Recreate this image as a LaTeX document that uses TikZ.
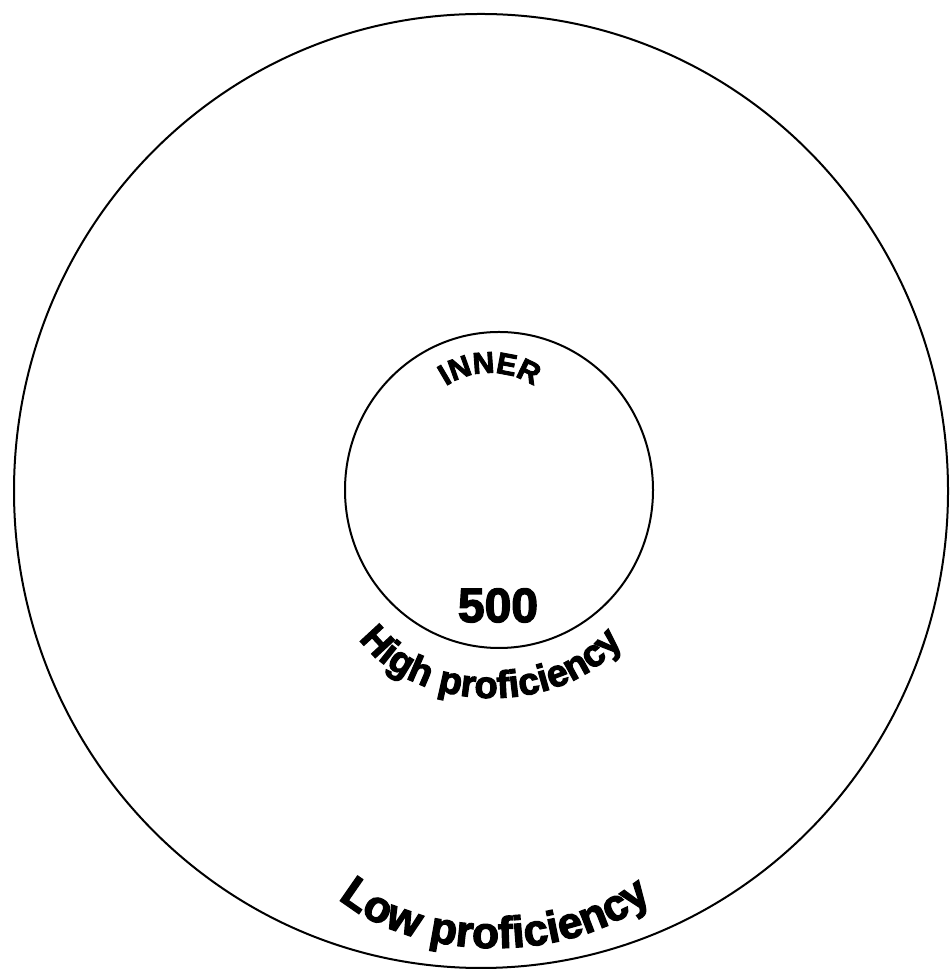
\documentclass[tikz,border=0pt]{standalone}
\usepackage{fontspec}
\setmainfont{Liberation Sans}
\newfontfamily\lbl{Liberation Sans Bold}[FakeBold=3]
\usetikzlibrary{decorations.text}
\begin{document}
\begin{tikzpicture}[x=1pt,y=1pt]
\tikzset{
  ring/.style={draw=black,line width=2pt},
  curved/.style={decorate,decoration={text along path,text align=center,text={#1}}}
}
\useasboundingbox (0,0) rectangle (949,973);
\coordinate (oc) at (481,482);
\coordinate (ic) at (499,483);
\coordinate (tinner) at (490,520);
\coordinate (thigh) at (492,385);
\coordinate (tlow) at (495,155);
% rings
\draw[ring] (oc) ellipse [x radius=467pt, y radius=477pt];
\draw[ring] (ic) ellipse [x radius=154pt, y radius=158pt];
% curved labels
\path[curved={|\lbl\fontsize{30}{30}\selectfont|INNER}]
  (tinner) ++(180:80pt) arc[start angle=180,end angle=0,radius=80pt];
\path[curved={|\lbl\fontsize{38}{38}\selectfont|High proficiency}]
  (thigh) ++(179:150pt and 110pt) arc[start angle=179,end angle=359,x radius=150pt,y radius=110pt];
\path[curved={|\lbl\fontsize{44}{44}\selectfont|Low proficiency}]
  (tlow) ++(180:200pt and 130pt) arc[start angle=180,end angle=360,x radius=200pt,y radius=130pt];
\node[font=\lbl\fontsize{48}{48}\selectfont,anchor=base,inner sep=0pt] (n500) at (498,351) {500};
\end{tikzpicture}
\end{document}
